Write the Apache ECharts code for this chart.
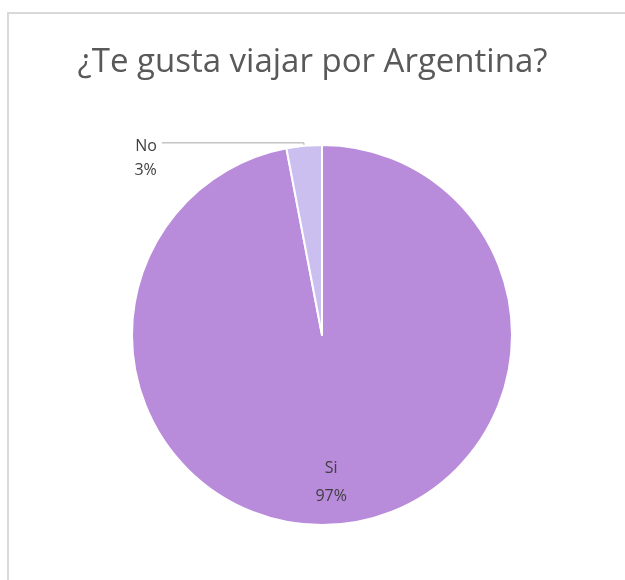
<!DOCTYPE html>
<html>
<head>
<meta charset="utf-8">
<script src="https://cdn.jsdelivr.net/npm/echarts@6/dist/echarts.min.js"></script>
<style>
  html, body { margin: 0; padding: 0; background: #fff; }
  #frame { position: absolute; left: 7px; top: 12px; width: 640px; height: 600px;
           border-left: 2px solid #d9d9d9; border-top: 2px solid #d9d9d9; box-sizing: border-box; }
  #chart { position: absolute; left: 0; top: 0; width: 625px; height: 580px; }
</style>
</head>
<body>
<div id="frame"></div>
<div id="chart"></div>
<script>
// Survey answers and their shares (percent)
const categories = ['Si', 'No'];
const values = [97, 3];
const sliceColors = ['#b98bdb', '#cbbff0'];

const chart = echarts.init(document.getElementById('chart'), null, { renderer: 'canvas' });

const labelFont = { fontFamily: 'Open Sans', fontSize: 16, color: '#404040' };

const data = categories.map((name, i) => {
  const item = { name, value: values[i], itemStyle: { color: sliceColors[i] } };
  if (i === 0) {
    // big slice: label drawn inside, near the outer rim
    item.label = Object.assign({ position: 'inside', lineHeight: 28 }, labelFont);
    item.labelLine = { show: false };
  } else {
    // small slice: label outside with a long leader line
    item.label = Object.assign({ position: 'outside', lineHeight: 24 }, labelFont);
    item.labelLine = { show: true, length: 3, length2: 142, lineStyle: { color: '#a6a6a6', width: 1 } };
  }
  return item;
});

chart.setOption({
  animation: false,
  title: {
    text: '¿Te gusta viajar por Argentina?',
    left: 'center',
    top: 41,
    textStyle: { fontFamily: 'Open Sans', fontWeight: 'normal', fontSize: 33, color: '#595959' }
  },
  series: [{
    type: 'pie',
    center: [322, 335],
    radius: [0, 190],
    startAngle: 90,
    clockwise: true,
    data,
    itemStyle: { borderColor: '#ffffff', borderWidth: 2 },
    label: { formatter: p => p.name + '\n' + p.value + '%' },
    labelLayout: function (params) {
      if (params.dataIndex === 0) {
        return { dy: 50 };
      }
      return { dy: 16 };
    }
  }]
});
</script>
</body>
</html>
